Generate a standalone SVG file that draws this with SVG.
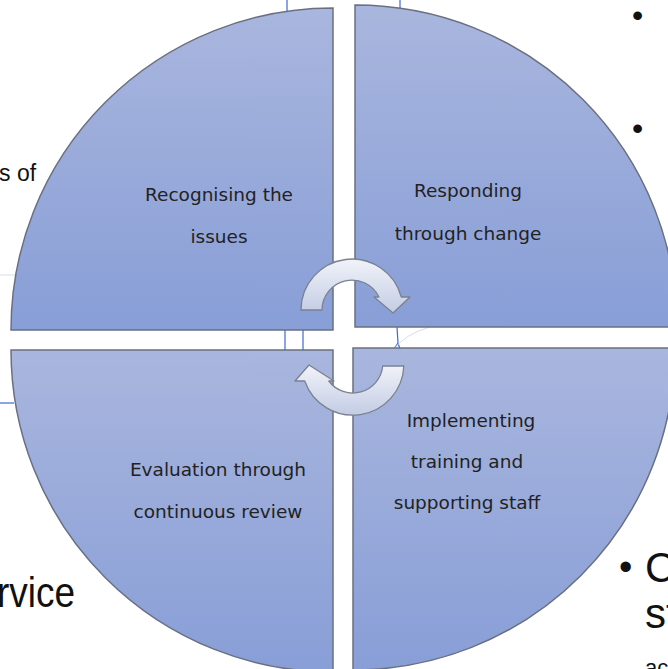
<svg xmlns="http://www.w3.org/2000/svg" width="668" height="669" viewBox="0 0 668 669">
  <defs>
    <linearGradient id="segFill" x1="0" y1="0" x2="0" y2="1">
      <stop offset="0" stop-color="#A9B6DE"/>
      <stop offset="1" stop-color="#889ED7"/>
    </linearGradient>
    <linearGradient id="arrowFill" x1="0" y1="0" x2="0" y2="1">
      <stop offset="0" stop-color="#F1F3F9"/>
      <stop offset="1" stop-color="#C3CCE4"/>
    </linearGradient>
    <style>
      .seg { fill: url(#segFill); stroke: #6A7080; stroke-width: 1.5; }
      .lbl { font-family: "DejaVu Sans", Verdana, sans-serif; font-size: 18.5px; fill: #222; text-anchor: middle; }
      .bg { font-family: "Liberation Sans", Arial, sans-serif; fill: #111; }
      .guide { stroke: #3A6BD0; stroke-width: 1.2; fill: none; }
      .faint { stroke: #D6DDEB; stroke-width: 1; fill: none; }
      .arrow { fill: url(#arrowFill); stroke: #7A8191; stroke-width: 1.3; stroke-linejoin: round; }
    </style>
  </defs>

  <rect width="668" height="669" fill="#FFFFFF"/>

  <!-- slide text behind the cycle -->
  <g id="background-text">
    <text class="bg" x="-1" y="181" font-size="23" fill="#3A3A3A">s of</text>
    <text class="bg" x="-3" y="607" font-size="42" textLength="78" lengthAdjust="spacingAndGlyphs">rvice</text>
    <text class="bg" x="619" y="580" font-size="38">•</text>
    <text class="bg" x="645" y="582" font-size="42">C</text>
    <text class="bg" x="645" y="628" font-size="42">st</text>
    <text class="bg" x="645" y="675" font-size="22" fill="#666">ac</text>
    <text class="bg" x="632" y="26" font-size="32">•</text>
    <text class="bg" x="632" y="139" font-size="32">•</text>
  </g>

  <!-- guide lines -->
  <g id="guides">
    <line class="guide" x1="287" y1="0" x2="287" y2="14"/>
    <line class="guide" x1="400" y1="0" x2="400" y2="9"/>
    <line class="guide" x1="285" y1="330" x2="285" y2="350"/>
    <line class="guide" x1="303" y1="330" x2="303" y2="350"/>
    <path class="guide" d="M397 327 L398 343 M398 343 L394 349 M398 343 L400 349"/>
    <line class="guide" x1="0" y1="403" x2="14" y2="403"/>
    <line class="faint" x1="0" y1="275" x2="15" y2="275"/>
    <path class="faint" d="M393 350 Q405 334 430 327"/>
  </g>

  <!-- quadrants -->
  <g id="recognising">
    <path class="seg" d="M333 330 L11 330 A322 322 0 0 1 333 8 Z"/>
    <text class="lbl" x="219" y="201">Recognising the</text>
    <text class="lbl" x="219" y="243">issues</text>
  </g>
  <g id="responding">
    <path class="seg" d="M355 327 L355 5 A322 322 0 0 1 677 327 Z"/>
    <text class="lbl" x="468" y="197">Responding</text>
    <text class="lbl" x="468" y="240">through change</text>
  </g>
  <g id="implementing">
    <path class="seg" d="M353 348 L675 348 A322 322 0 0 1 353 670 Z"/>
    <text class="lbl" x="471" y="427">Implementing</text>
    <text class="lbl" x="467" y="468">training and</text>
    <text class="lbl" x="467" y="509">supporting staff</text>
  </g>
  <g id="evaluation">
    <path class="seg" d="M333 350 L333 672 A322 322 0 0 1 11 350 Z"/>
    <text class="lbl" x="218" y="476">Evaluation through</text>
    <text class="lbl" x="218" y="518">continuous review</text>
  </g>

  <!-- cycle arrows -->
  <g id="connectors">
    <path class="arrow" d="M301 310 L322 310 A30 30 0 0 1 379 297 L374 297 L393 313 L410 297 L401.3 297 A51 51 0 0 0 301 310 Z"/>
    <path class="arrow" d="M403.8 366 L382.7 366 A30 30 0 0 1 328.8 381 L334 381 L309 365 L295 381 L304.7 381 A51 51 0 0 0 403.8 366 Z"/>
  </g>
</svg>
